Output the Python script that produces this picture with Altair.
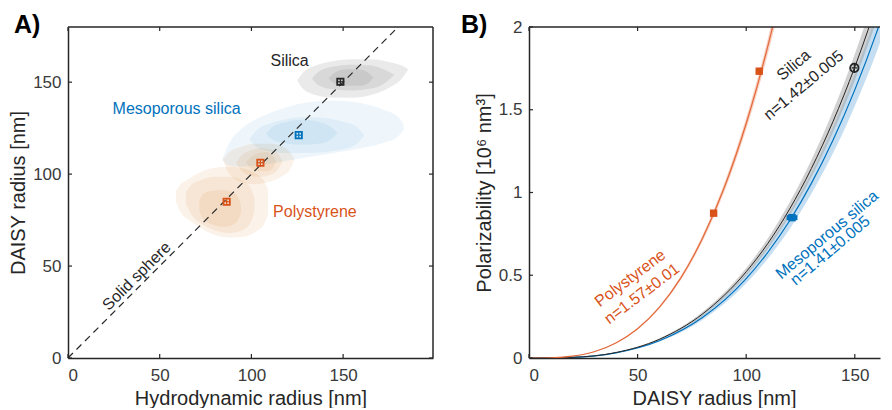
import altair as alt
import pandas as pd

FONT = "Liberation Sans"
DARK = "#262626"
ORANGE = "#D95319"
BLUE = "#0072BD"

# ---------------- Panel A data ----------------
a_names = ["Silica", "Mesoporous silica", "Polystyrene", "Polystyrene"]
a_hydro = [148.5, 125.8, 104.9, 86.5]
a_daisy = [150.2, 121.2, 106.2, 85.0]
a_err = [2.0, 2.0, 2.0, 2.0]
a_cols = [DARK, BLUE, ORANGE, ORANGE]

diag_x = [0, 180]
diag_y = [0, 180]

a_ticks = [0, 50, 100, 150]

# contour outlines (x, upper y, lower y)
silica_outer = ([125, 128, 135, 145, 155, 165, 175, 182, 185.5],
                [151, 155, 159, 161.5, 162.5, 162.5, 161, 159, 157],
                [151, 146.5, 143, 141.5, 141.5, 143, 147, 152, 157])
silica_mid = ([133, 137, 145, 155, 165, 172, 178],
              [152, 156, 158.5, 159.5, 159, 157, 154],
              [152, 148, 146, 145.5, 146.5, 149, 154])
silica_inner = ([142, 146, 152, 158, 163, 166.5],
                [152, 155.5, 157, 157, 155.5, 152.5],
                [152, 149, 148, 148, 149, 152.5])

meso_outer = ([84, 88, 95, 105, 115, 130, 145, 160, 172, 180, 183],
              [108, 117, 125, 131, 135, 139, 140, 138.5, 135, 131, 127],
              [108, 104.5, 104, 105, 106.5, 109, 111.5, 114, 117, 120.5, 124])
meso_mid = ([99, 103, 110, 120, 130, 140, 150, 157, 161.5],
            [119, 124, 127.5, 130, 131, 130.5, 128.5, 126, 121],
            [119, 114.5, 112.5, 111.5, 111.5, 112, 113.5, 116, 121])
meso_inner = ([108, 112, 120, 128, 136, 142, 147],
              [122, 126, 128.5, 129.5, 128.5, 126.5, 122.5],
              [122, 118.5, 116.5, 116, 116.5, 118, 122.5])

ps1_outer = ([84.5, 88, 95, 102, 110, 117, 121, 123.5],
             [108, 112, 115, 116.5, 116.5, 115, 112, 108],
             [108, 100, 95.5, 94.5, 96, 99, 102.5, 108])
ps1_mid = ([91.5, 95, 100, 105, 110, 114, 117],
           [106, 110.5, 113, 114, 113.5, 111.5, 107],
           [106, 101.5, 99, 98.5, 99.5, 102, 107])
ps1_inner = ([97, 100, 104, 108, 111, 113.5],
             [106.5, 109.5, 111.5, 112, 110.5, 107],
             [106.5, 103, 101.5, 101.5, 102.5, 107])

ps2_outer = ([58.9, 61, 66, 72, 80, 88, 96, 103, 107, 109],
             [91, 94, 97.5, 101, 103.5, 104, 103, 100, 96, 92],
             [85, 80, 75, 71, 67, 65.5, 66, 69, 73, 78])
ps2_mid = ([64.3, 67, 72, 80, 88, 95, 99.5, 101.6],
           [90, 94, 96.5, 98.5, 98.5, 96.5, 92.5, 87],
           [84, 78.5, 73.5, 69.5, 68, 69.5, 73.5, 80])
ps2_inner = ([71.6, 74, 79, 85, 90, 93, 94.3],
             [86, 89.5, 91, 91.4, 90, 87, 83],
             [80, 75.5, 72.5, 71.4, 72.5, 75.5, 79])

ps_contours = [("ps2o", ps2_outer), ("ps2m", ps2_mid), ("ps2i", ps2_inner),
               ("ps1o", ps1_outer), ("ps1m", ps1_mid), ("ps1i", ps1_inner)]
meso_contours = [("mo", meso_outer), ("mm", meso_mid), ("mi", meso_inner)]
silica_contours = [("so", silica_outer), ("sm", silica_mid), ("si", silica_inner)]

a_label_text = ["Silica", "Mesoporous silica", "Polystyrene", "Solid sphere"]
a_label_x = [120.8, 59.2, 134.6, 37.5]
a_label_y = [161.4, 135.3, 79.6, 44.5]
a_label_col = [DARK, BLUE, ORANGE, DARK]
a_label_ang = [0, 0, 0, 315]

# ---------------- Panel B data ----------------
b_ticks_x = [0, 50, 100, 150]
b_ticks_y = [0, 0.5, 1, 1.5, 2]

ps_r = [0, 10, 20, 30, 40, 50, 60, 70, 80, 90, 100, 105, 110, 115]
ps_a = [0, 0.0014, 0.011, 0.038, 0.091, 0.177, 0.306, 0.486, 0.726, 1.033, 1.417, 1.64, 1.886, 2.155]
ps_lo = [0, 0.0013, 0.011, 0.037, 0.089, 0.173, 0.299, 0.474, 0.708, 1.007, 1.382, 1.6, 1.84, 2.1]
ps_hi = [0, 0.0015, 0.012, 0.039, 0.093, 0.181, 0.313, 0.498, 0.744, 1.059, 1.452, 1.68, 1.93, 2.21]

si_r = [0, 20, 40, 60, 80, 100, 110, 120, 130, 140, 150, 156, 160]
si_a = [0, 0.0042, 0.033, 0.113, 0.267, 0.521, 0.693, 0.900, 1.145, 1.430, 1.758, 1.978, 2.134]
si_lo = [0, 0.004, 0.032, 0.107, 0.255, 0.498, 0.662, 0.860, 1.093, 1.366, 1.679, 1.889, 2.038]
si_hi = [0, 0.0044, 0.035, 0.118, 0.279, 0.544, 0.724, 0.941, 1.197, 1.494, 1.837, 2.067, 2.23]

me_r = [0, 20, 40, 60, 80, 100, 110, 120, 130, 140, 150, 160, 165]
me_a = [0, 0.0038, 0.031, 0.104, 0.246, 0.48, 0.639, 0.829, 1.055, 1.317, 1.62, 1.966, 2.157]
me_lo = [0, 0.0036, 0.029, 0.098, 0.231, 0.451, 0.601, 0.779, 0.992, 1.238, 1.523, 1.848, 2.03]
me_hi = [0, 0.004, 0.033, 0.110, 0.261, 0.509, 0.677, 0.879, 1.118, 1.396, 1.717, 2.084, 2.29]

b_pt_x = [85.0, 106.0, 121.1, 149.8]
b_pt_y = [0.875, 1.733, 0.848, 1.753]
b_pt_err = [1.5, 1.0, 2.5, 1.2]
b_pt_col = [ORANGE, ORANGE, BLUE, DARK]
b_pt_fill = [True, True, True, False]

b_label_text = ["Polystyrene", "n=1.57\u00b10.01", "Silica", "n=1.42\u00b10.005",
                "Mesoporous silica", "n=1.41\u00b10.005"]
b_label_x = [46.6, 52.0, 121.9, 126.5, 137.2, 138.7]
b_label_y = [0.482, 0.388, 1.769, 1.648, 0.744, 0.649]
b_label_col = [ORANGE, ORANGE, DARK, DARK, BLUE, BLUE]
b_label_ang = [323, 323, 320, 320, 320, 320]

panel_labels = ["A)", "B)"]

# ---------------- layout ----------------
WA, HA = 365, 331
WB, HB = 351, 331
TICK = 4

# ---------------- build panel A ----------------
xa_scale = alt.Scale(domain=[0, 199], nice=False, zero=False)
ya_scale = alt.Scale(domain=[0, 180], nice=False, zero=False)
xa_axis = alt.Axis(values=a_ticks, ticks=False, grid=False, domainColor=DARK, domainWidth=1.5,
                   labelPadding=9, title="Hydrodynamic radius [nm]", titlePadding=5)
ya_axis = alt.Axis(values=a_ticks, ticks=False, grid=False, domainColor=DARK, domainWidth=1.5,
                   labelPadding=7, title="DAISY radius [nm]", titlePadding=4)


def XA(field="x"):
    return alt.X(f"{field}:Q", scale=xa_scale, axis=xa_axis)


def YA(field="y"):
    return alt.Y(f"{field}:Q", scale=ya_scale, axis=ya_axis)


def blob_layer(clist, color, op):
    rows = []
    for cid, (xs, his, los) in clist:
        for xv, hv, lv in zip(xs, his, los):
            rows.append({"cid": cid, "x": xv, "y": hv, "y2": lv})
    df = pd.DataFrame(rows)
    return alt.Chart(df).mark_area(interpolate="monotone", color=color, opacity=op).encode(
        x=XA(), y=alt.Y("y:Q", scale=ya_scale, axis=ya_axis, stack=None), y2="y2:Q",
        detail="cid:N")


blobs = [blob_layer(ps_contours, "#D9822B", 0.1),
         blob_layer(meso_contours, BLUE, 0.065),
         blob_layer(silica_contours, "#7a7a7a", 0.16)]

diag = alt.Chart(pd.DataFrame({"x": diag_x, "y": diag_y})).mark_line(
    color=DARK, strokeDash=[7, 5], strokeWidth=1.2).encode(x=XA(), y=YA())

pts_df = pd.DataFrame({"name": a_names, "x": a_hydro, "y": a_daisy, "e": a_err, "col": a_cols})
pts_df["xl"] = pts_df.x - pts_df.e
pts_df["xh"] = pts_df.x + pts_df.e
pts_df["yl"] = pts_df.y - pts_df.e
pts_df["yh"] = pts_df.y + pts_df.e

a_sq = alt.Chart(pts_df).mark_point(shape="square", filled=False, size=40, strokeWidth=1.8, opacity=1).encode(
    x=XA(), y=YA(), color=alt.Color("col:N", scale=None))
a_ex = alt.Chart(pts_df).mark_rule(strokeWidth=1.2).encode(
    x=alt.X("xl:Q", scale=xa_scale, axis=xa_axis), x2="xh:Q", y=YA(), color=alt.Color("col:N", scale=None))
a_ey = alt.Chart(pts_df).mark_rule(strokeWidth=1.2).encode(
    x=XA(), y=alt.Y("yl:Q", scale=ya_scale, axis=ya_axis), y2="yh:Q", color=alt.Color("col:N", scale=None))

a_lab_df = pd.DataFrame({"x": a_label_x, "y": a_label_y, "t": a_label_text,
                         "col": a_label_col, "ang": a_label_ang})
a_labels = alt.Chart(a_lab_df).mark_text(font=FONT, fontSize=16, align="center", baseline="middle").encode(
    x=XA(), y=YA(), text="t:N", color=alt.Color("col:N", scale=None), angle=alt.Angle("ang:Q", scale=None))

one = pd.DataFrame({"k": [0]})
ta = pd.DataFrame({"x": a_ticks, "y": a_ticks})
a_tick_b = alt.Chart(ta).mark_rule(color=DARK, strokeWidth=1.2).encode(
    x=XA(), y=alt.value(HA - TICK), y2=alt.value(HA))
a_tick_t = alt.Chart(ta).mark_rule(color=DARK, strokeWidth=1.2).encode(
    x=XA(), y=alt.value(0), y2=alt.value(TICK))
a_tick_l = alt.Chart(ta).mark_rule(color=DARK, strokeWidth=1.2).encode(
    y=YA(), x=alt.value(0), x2=alt.value(TICK))
a_tick_r = alt.Chart(ta).mark_rule(color=DARK, strokeWidth=1.2).encode(
    y=YA(), x=alt.value(WA - TICK), x2=alt.value(WA))
a_top = alt.Chart(one).mark_rule(color=DARK, strokeWidth=1.5).encode(
    x=alt.value(0), x2=alt.value(WA), y=alt.value(0))
a_right = alt.Chart(one).mark_rule(color=DARK, strokeWidth=1.5).encode(
    x=alt.value(WA), y=alt.value(0), y2=alt.value(HA))
a_panel = alt.Chart(pd.DataFrame({"t": [panel_labels[0]]})).mark_text(
    font=FONT, fontSize=25, fontWeight="bold", align="left", baseline="alphabetic", color="black").encode(
    text="t:N", x=alt.value(-54), y=alt.value(6))

panelA = alt.layer(*blobs, diag, a_ex, a_ey, a_sq, a_labels,
                   a_tick_b, a_tick_t, a_tick_l, a_tick_r, a_top, a_right, a_panel).properties(
    width=WA, height=HA)

# ---------------- build panel B ----------------
xb_scale = alt.Scale(domain=[0, WB / 2.172], nice=False, zero=False)
yb_scale = alt.Scale(domain=[0, 2], nice=False, zero=False)
xb_axis = alt.Axis(values=b_ticks_x, ticks=False, grid=False, domainColor=DARK, domainWidth=1.5,
                   labelPadding=9, title="DAISY radius [nm]", titlePadding=5, titleX=185)
yb_axis = alt.Axis(values=b_ticks_y, ticks=False, grid=False, domainColor=DARK, domainWidth=1.5,
                   labelPadding=7, format="~g", title="Polarizability [10\u2076 nm\u00b3]", titlePadding=4)


def XB(field="x"):
    return alt.X(f"{field}:Q", scale=xb_scale, axis=xb_axis)


def YB(field="y"):
    return alt.Y(f"{field}:Q", scale=yb_scale, axis=yb_axis)


def band(r, lo, hi, color, op):
    df = pd.DataFrame({"x": r, "y": lo, "y2": hi})
    return alt.Chart(df).mark_area(color=color, opacity=op, clip=True, interpolate="monotone").encode(
        x=XB(), y=alt.Y("y:Q", scale=yb_scale, axis=yb_axis, stack=None), y2="y2:Q")


def curve(r, a, color, w=1.2):
    df = pd.DataFrame({"x": r, "y": a})
    return alt.Chart(df).mark_line(color=color, strokeWidth=w, clip=True, interpolate="monotone").encode(
        x=XB(), y=YB())


b_bands = [band(me_r, me_lo, me_hi, "#7fb5e0", 0.45),
           band(si_r, si_lo, si_hi, "#9a9a9a", 0.45),
           band(ps_r, ps_lo, ps_hi, "#f0a080", 0.5)]
b_curves = [curve(me_r, me_a, BLUE), curve(si_r, si_a, DARK, 1.0), curve(ps_r, ps_a, "#E3683A")]

bp_df = pd.DataFrame({"x": b_pt_x, "y": b_pt_y, "e": b_pt_err, "col": b_pt_col})
bp_df["xl"] = bp_df.x - bp_df.e
bp_df["xh"] = bp_df.x + bp_df.e
bp_df["yl"] = bp_df.y - 0.03
bp_df["yh"] = bp_df.y + 0.03
bp_fill = bp_df[[f for f in b_pt_fill]]
bp_open = bp_df[[not f for f in b_pt_fill]]

b_sq_f = alt.Chart(bp_fill).mark_point(shape="square", filled=True, size=55, opacity=1).encode(
    x=XB(), y=YB(), color=alt.Color("col:N", scale=None))
b_ex_f = alt.Chart(bp_fill).mark_rule(strokeWidth=5).encode(
    x=alt.X("xl:Q", scale=xb_scale, axis=xb_axis), x2="xh:Q", y=YB(), color=alt.Color("col:N", scale=None))
b_sq_o = alt.Chart(bp_open).mark_point(shape="circle", filled=False, size=70, strokeWidth=1.8, opacity=1).encode(
    x=XB(), y=YB(), color=alt.Color("col:N", scale=None))
b_ex_o = alt.Chart(bp_open).mark_rule(strokeWidth=1.3).encode(
    x=alt.X("xl:Q", scale=xb_scale, axis=xb_axis), x2="xh:Q", y=YB(), color=alt.Color("col:N", scale=None))
b_ey_o = alt.Chart(bp_open).mark_rule(strokeWidth=1.3).encode(
    x=XB(), y=alt.Y("yl:Q", scale=yb_scale, axis=yb_axis), y2="yh:Q", color=alt.Color("col:N", scale=None))

b_lab_df = pd.DataFrame({"x": b_label_x, "y": b_label_y, "t": b_label_text,
                         "col": b_label_col, "ang": b_label_ang})
b_labels = alt.Chart(b_lab_df).mark_text(font=FONT, fontSize=16, align="center", baseline="middle").encode(
    x=XB(), y=YB(), text="t:N", color=alt.Color("col:N", scale=None), angle=alt.Angle("ang:Q", scale=None))

tbx = pd.DataFrame({"x": b_ticks_x})
tby = pd.DataFrame({"y": b_ticks_y})
b_tick_b = alt.Chart(tbx).mark_rule(color=DARK, strokeWidth=1.2).encode(
    x=XB(), y=alt.value(HB - TICK), y2=alt.value(HB))
b_tick_t = alt.Chart(tbx).mark_rule(color=DARK, strokeWidth=1.2).encode(
    x=XB(), y=alt.value(0), y2=alt.value(TICK))
b_tick_l = alt.Chart(tby).mark_rule(color=DARK, strokeWidth=1.2).encode(
    y=YB(), x=alt.value(0), x2=alt.value(TICK))
b_top = alt.Chart(one).mark_rule(color=DARK, strokeWidth=1.5).encode(
    x=alt.value(0), x2=alt.value(WB), y=alt.value(0))
b_panel = alt.Chart(pd.DataFrame({"t": [panel_labels[1]]})).mark_text(
    font=FONT, fontSize=25, fontWeight="bold", align="left", baseline="alphabetic", color="black").encode(
    text="t:N", x=alt.value(-68), y=alt.value(6))

panelB = alt.layer(*b_bands, *b_curves, b_ex_f, b_sq_f, b_ex_o, b_ey_o, b_sq_o, b_labels,
                   b_tick_b, b_tick_t, b_tick_l, b_top, b_panel).properties(width=WB, height=HB)

chart = alt.hconcat(panelA, panelB, spacing=27).properties(
    padding={"left": 0, "top": 5, "right": 0, "bottom": 0}, background="white"
).configure_view(stroke=None).configure_axis(
    labelFont=FONT, labelFontSize=17, labelColor="#3a3a3a",
    titleFont=FONT, titleFontSize=20, titleFontWeight="normal", titleColor=DARK,
)

chart.save("out.html", embed_options={"renderer": "svg", "actions": False})
